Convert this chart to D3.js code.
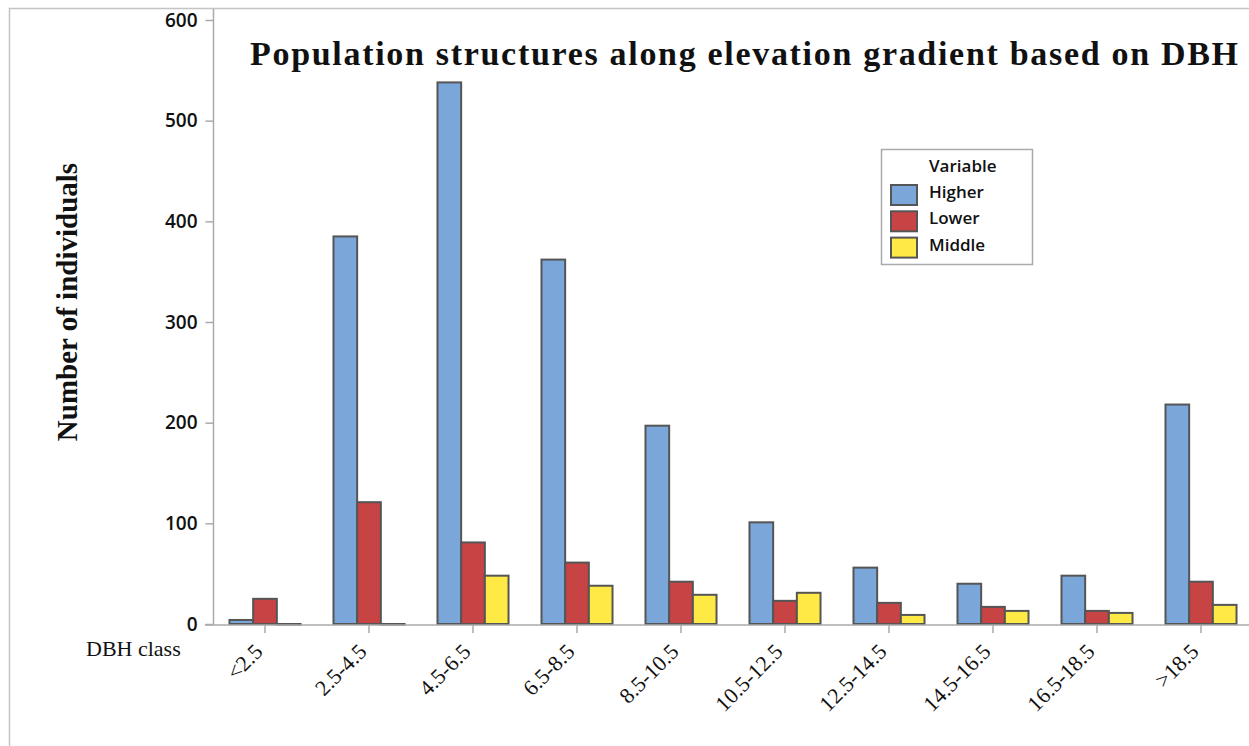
<!DOCTYPE html>
<html>
<head>
<meta charset="utf-8">
<script src="https://cdn.jsdelivr.net/npm/d3@7"></script>
<style>
  html, body { margin: 0; padding: 0; background: #fff; }
  svg { display: block; }
</style>
</head>
<body>
<svg id="chart" width="1249" height="746"></svg>
<script>
const categories = ["<2.5", "2.5-4.5", "4.5-6.5", "6.5-8.5", "8.5-10.5", "10.5-12.5", "12.5-14.5", "14.5-16.5", "16.5-18.5", ">18.5"];
const seriesNames = ["Higher", "Lower", "Middle"];
const higher = [4, 385, 538, 362, 197, 101, 56, 40, 48, 218];
const lower  = [25, 121, 81, 61, 42, 23, 21, 17, 13, 42];
const middle = [0, 0, 48, 38, 29, 31, 9, 13, 11, 19];
const yTicks = [0, 100, 200, 300, 400, 500, 600];
const colors = ["#7BA6D9", "#C84444", "#FFE945"];

const seriesValues = [higher, lower, middle];
const svg = d3.select("#chart");

// outer frame
svg.append("rect").attr("x", 9.5).attr("y", 8.5).attr("width", 1400).attr("height", 900)
  .attr("fill", "none").attr("stroke", "#c4c4c4").attr("stroke-width", 1.5);

const x0 = d3.scaleBand().domain(categories).range([213, 1253]).paddingInner(0.317).paddingOuter(0.1585);
const x1 = d3.scaleBand().domain(seriesNames).range([0, x0.bandwidth()]);
const y = d3.scaleLinear().domain([0, 600]).range([624, 20]);

// plot frame left
svg.append("line").attr("x1", 213.5).attr("x2", 213.5).attr("y1", 9).attr("y2", 625)
  .attr("stroke", "#aaaaaa").attr("stroke-width", 1.5);

// y axis
const yAxis = d3.axisLeft(y).tickValues(yTicks).tickSize(8).tickPadding(8).tickFormat(d3.format("d"));
const gy = svg.append("g").attr("transform", "translate(213.5,0)").call(yAxis);
gy.select(".domain").remove();
gy.selectAll(".tick line").attr("stroke", "#aaaaaa").attr("stroke-width", 1.5);
gy.selectAll(".tick text").attr("font-family", "'Open Sans', sans-serif").attr("font-weight", 600)
  .attr("font-size", 19).attr("fill", "#111");

// bars
const data = categories.map((c, i) => ({ cat: c, vals: seriesNames.map((s, j) => ({ s, v: seriesValues[j][i], j })) }));
const groups = svg.append("g").selectAll("g").data(data).join("g")
  .attr("transform", d => `translate(${x0(d.cat)},0)`);
groups.selectAll("rect").data(d => d.vals).join("rect")
  .attr("x", d => x1(d.s))
  .attr("y", d => y(d.v))
  .attr("width", x1.bandwidth())
  .attr("height", d => Math.max(0.6, y(0) - y(d.v)))
  .attr("fill", d => colors[d.j])
  .attr("stroke", "#555555").attr("stroke-width", 2);

// x axis
const xAxis = d3.axisBottom(x0).tickSize(8).tickPadding(4);
const gx = svg.append("g").attr("transform", "translate(0,625)").call(xAxis);
gx.select(".domain").remove();
svg.append("line").attr("x1", 205).attr("x2", 1249).attr("y1", 625).attr("y2", 625)
  .attr("stroke", "#aaaaaa").attr("stroke-width", 1.5);
gx.selectAll(".tick line").attr("stroke", "#aaaaaa").attr("stroke-width", 1.5);
gx.selectAll(".tick text")
  .attr("font-family", "'Liberation Serif', 'Times New Roman', serif")
  .attr("font-size", 22).attr("fill", "#111")
  .attr("text-anchor", "end")
  .attr("dy", null).attr("y", 0).attr("x", 0)
  .attr("transform", "translate(-1,28) rotate(-45)");

// x axis title
svg.append("text").attr("x", 86).attr("y", 656)
  .attr("font-family", "'Liberation Serif', 'Times New Roman', serif").attr("font-size", 22)
  .attr("fill", "#111").text("DBH class");

// y axis title
svg.append("text").attr("transform", "translate(77,302) rotate(-90)")
  .attr("text-anchor", "middle")
  .attr("font-family", "'Liberation Serif', 'Times New Roman', serif").attr("font-weight", "bold")
  .attr("font-size", 29).attr("fill", "#111").text("Number of individuals");

// title
svg.append("text").attr("x", 250).attr("y", 65)
  .attr("font-family", "'Liberation Serif', 'Times New Roman', serif").attr("font-weight", "bold")
  .attr("font-size", 34).attr("fill", "#111")
  .attr("textLength", 988).attr("lengthAdjust", "spacing")
  .text("Population structures along elevation gradient based on DBH");

// legend
const lg = svg.append("g");
lg.append("rect").attr("x", 881.5).attr("y", 149.5).attr("width", 151).attr("height", 115)
  .attr("fill", "#fff").attr("stroke", "#aaaaaa").attr("stroke-width", 1.5);
lg.append("text").attr("x", 929).attr("y", 172)
  .attr("font-family", "'Open Sans', sans-serif").attr("font-weight", 600).attr("font-size", 17)
  .attr("fill", "#111").text("Variable");
const items = lg.selectAll("g.item").data(seriesNames).join("g").attr("class", "item")
  .attr("transform", (d, i) => `translate(0,${185 + i * 26.3})`);
items.append("rect").attr("x", 891).attr("y", 0).attr("width", 26).attr("height", 20)
  .attr("fill", (d, i) => colors[i]).attr("stroke", "#555555").attr("stroke-width", 2);
items.append("text").attr("x", 929).attr("y", 13)
  .attr("font-family", "'Open Sans', sans-serif").attr("font-weight", 600).attr("font-size", 17)
  .attr("fill", "#111").text(d => d);
</script>
</body>
</html>
